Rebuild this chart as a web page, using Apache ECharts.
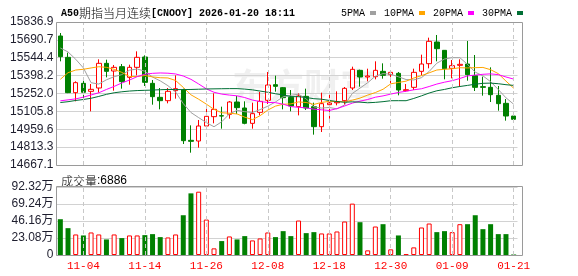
<!DOCTYPE html>
<html><head><meta charset="utf-8">
<script src="https://cdn.jsdelivr.net/npm/echarts@6.0.0/dist/echarts.min.js"></script>
<style>html,body{margin:0;padding:0;background:#fff}#c{width:578px;height:276px}</style>
</head><body><div id="c"></div><script>
const dates = ['10-30','10-31','11-03','11-04','11-05','11-06','11-07','11-10','11-11','11-12','11-13','11-14','11-17','11-18','11-19','11-20','11-21','11-24','11-25','11-26','11-27','11-28','12-01','12-02','12-03','12-04','12-05','12-08','12-09','12-10','12-11','12-12','12-15','12-16','12-17','12-18','12-19','12-22','12-23','12-24','12-25','12-26','12-29','12-30','12-31','01-01','01-02','01-05','01-06','01-07','01-08','01-09','01-12','01-13','01-14','01-15','01-16','01-19','01-20','01-21'];
const xTickLabels = ['11-04','11-14','11-26','12-08','12-18','12-30','01-09','01-21'];

const open  = [15722.4,15547.9,15258.8,15335.1,15269.7,15296.9,15498.8,15436.0,15471.5,15384.2,15466.0,15550.6,15335.1,15220.6,15193.3,15275.2,15280.6,14868.9,14863.4,14986.1,15062.5,15070.0,15081.6,15182.4,15133.4,15007.9,15097.9,15196.1,15324.2,15299.7,15220.6,15144.3,15228.8,15144.3,14980.7,15160.6,15176.0,15193.3,15296.9,15441.5,15387.0,15389.7,15433.3,15406.1,15416.9,15275.2,15302.4,15433.3,15496.0,15673.3,15605.1,15457.8,15482.4,15493.3,15397.9,15307.9,15302.4,15237.0,15171.5,15067.9];
const close = [15553.3,15258.8,15340.6,15261.6,15286.1,15498.8,15433.3,15466.0,15348.8,15466.0,15547.8,15343.3,15226.1,15193.3,15269.7,15291.5,14866.1,14860.7,14986.1,15065.2,15122.5,15067.9,15182.4,15136.1,15007.9,15087.0,15187.9,15321.5,15310.6,15217.9,15149.7,15231.5,15133.4,14980.7,15168.8,15174.2,15184.0,15294.2,15449.7,15387.0,15395.2,15441.5,15400.6,15425.1,15280.6,15283.3,15425.1,15493.3,15678.7,15618.7,15455.1,15479.7,15490.6,15406.1,15302.4,15302.4,15242.4,15168.8,15067.9,15040.6];
const low   = [15515.1,15255.0,15187.9,15193.3,15106.1,15258.8,15384.2,15275.1,15291.5,15324.2,15400.6,15313.3,15160.6,15122.5,15171.5,15209.7,14838.9,14767.9,14808.9,14969.7,15007.9,14964.3,15046.1,15084.3,15000.1,14964.3,15073.4,15166.1,15267.0,15122.5,15106.1,15073.3,15117.0,14915.2,14937.0,15046.1,15155.2,15160.6,15280.6,15307.9,15351.5,15367.9,15373.3,15335.1,15237.0,15267.0,15280.6,15400.6,15457.8,15515.1,15367.9,15376.1,15307.9,15356.9,15272.4,15234.3,15182.4,15111.5,15029.8,15029.8];
const high  = [15746.9,15586.0,15351.5,15373.3,15329.7,15531.5,15528.8,15485.1,15493.3,15487.8,15596.9,15564.2,15362.4,15296.9,15296.9,15400.6,15291.5,14991.6,15035.2,15133.4,15253.3,15144.3,15190.6,15231.5,15187.9,15177.0,15264.2,15427.9,15397.9,15305.2,15280.6,15253.3,15291.5,15177.0,15258.8,15253.3,15269.7,15305.2,15471.5,15447.0,15455.1,15515.1,15498.8,15444.2,15427.9,15329.7,15455.1,15569.7,15708.7,15730.6,15607.8,15526.0,15531.5,15681.5,15566.9,15389.7,15466.0,15313.3,15207.0,15070.6];
const volume = [485900,364400,278900,265400,305900,278900,211500,278900,229400,265400,265400,269900,283400,242900,238400,278900,539900,836800,859300,481400,90000,189000,251900,211500,256400,198000,225000,305900,242900,323900,256400,467900,296900,310400,292400,292400,319400,454400,697300,445400,63000,386900,418400,76500,265400,9000,103500,373400,427400,310400,323900,310400,418400,418400,539900,350900,418400,283400,283400,6886];

const ma5  = [15624,15592,15532,15461,15340.1,15329.2,15364.1,15389.2,15406.6,15442.6,15452.4,15434.4,15386.4,15355.3,15316.0,15264.8,15169.3,15096.3,15054.8,15013.9,14980.1,15020.5,15084.8,15114.8,15103.4,15096.3,15120.3,15148.1,15183.0,15225.0,15237.5,15246.2,15208.6,15142.6,15132.8,15137.7,15126.3,15158.4,15252.2,15295.9,15340.1,15393.5,15414.8,15409.9,15388.6,15366.2,15362.9,15381.5,15432.2,15499.8,15534.2,15545.1,15544.6,15490.0,15426.8,15396.2,15348.8,15284.4,15216.8,15164.4];
const ma10 = [15368,15422,15444,15450,15461,15471,15466,15450,15425,15391.3,15390.8,15399.2,15387.8,15381.0,15379.3,15358.6,15301.9,15241.3,15205.1,15165.0,15122.5,15094.9,15090.5,15084.8,15058.6,15038.2,15070.4,15116.5,15148.9,15164.2,15166.9,15183.3,15178.4,15162.8,15178.9,15187.6,15186.3,15183.5,15197.4,15214.3,15238.9,15259.9,15286.6,15331.1,15342.2,15353.1,15378.2,15398.1,15421.0,15444.2,15450.2,15454.0,15463.0,15461.1,15463.3,15465.2,15446.9,15414.5,15353.4,15295.6];
const ma20 = [15192,15200,15208,15222,15240,15258,15285,15310,15338,15362,15390,15410,15417,15420,15418,15412,15395,15368,15330,15290,15262,15247.1,15239.2,15232.9,15219.0,15198.4,15186.1,15178.9,15177.0,15164.6,15144.7,15139.1,15134.4,15123.8,15118.8,15112.9,15128.3,15150.0,15173.2,15189.3,15202.9,15221.6,15232.5,15246.9,15260.6,15270.4,15282.2,15290.8,15309.2,15329.3,15344.5,15357.0,15374.8,15396.1,15402.8,15409.2,15412.6,15406.3,15387.2,15369.9];
const ma30 = [15178,15185,15195,15203,15213,15228,15245,15258,15266,15272,15276,15278,15280,15283,15285,15284,15284,15285,15287,15289,15290,15291,15292,15292,15288,15282,15272,15262,15250,15240.2,15226.7,15225.8,15218.9,15209.5,15205.6,15194.8,15186.2,15180.4,15183.8,15181.2,15176.1,15179.4,15185.2,15192.9,15193.3,15193.0,15211.6,15232.7,15255.8,15274.2,15285.3,15299.1,15309.3,15318.3,15328.1,15335.3,15337.1,15332.1,15324.0,15318.1];

const priceTickLabels = ['14667.1','14813.3','14959.6','15105.8','15252.0','15398.2','15544.4','15690.7','15836.9'];
const volTickLabels = ['0','23.08万','46.16万','69.24万','92.32万'];
const priceMin = 14667.1, priceMax = 15836.9, priceStep = 146.225;
const volMax = 923200, volStep = 230800;
const lastVolume = 6886;
const titleText = 'A50期指当月连续[CNOOY] 2026-01-20 18:11';
const maNames = ['5PMA','10PMA','20PMA','30PMA'];

const UP = '#ff0000', DOWN = '#008000';
const maColors = ['#a0a0a0','#ffa500','#ff00ff','#006f35'];
const latin = 'Liberation Mono';
const cjk = 'Noto Sans CJK SC';

const chart = echarts.init(document.getElementById('c'), null, {renderer:'canvas'});

const vLines = {
  silent: true, symbol: ['none','none'], animation:false,
  label: {show:false},
  lineStyle: {color:'#c8c8c8', type:[4,3], width:1},
  data: xTickLabels.map(d => ({xAxis: d}))
};

const isUp = i => close[i] > open[i] || (close[i] === open[i] && (i === 0 || close[i] >= close[i-1]));

function richTitle(s){
  let out = '', cur = '', curT = null;
  for (const ch of s) {
    const t = /[\u4e00-\u9fff]/.test(ch) ? 'c' : 'a';
    if (t !== curT && cur) { out += '{' + curT + '|' + cur + '}'; cur=''; }
    curT = t; cur += ch;
  }
  if (cur) out += '{' + curT + '|' + cur + '}';
  return out;
}

const option = {
  animation: false,
  backgroundColor: '#fff',
  title: [
    {left: 56, top: 2, text: richTitle(titleText),
     textStyle: {rich: {a:{fontFamily:latin, fontSize:10, color:'#000'}, c:{fontFamily:cjk, fontSize:12, fontWeight:300, color:'#000'}}}},
    {left: 56, top: 170, text: '{c|成交量}{a|:' + lastVolume + '}',
     textStyle: {rich: {a:{fontFamily:'Liberation Sans', fontSize:12, fontWeight:'normal', color:'#000'}, c:{fontFamily:cjk, fontSize:12, fontWeight:300, color:'#000'}}}}
  ],
  legend: {
    left: 336, top: 3, align: 'right', icon: 'rect', itemWidth: 6, itemHeight: 4, itemGap: 8,
    textStyle: {fontFamily: latin, fontSize: 10, color: '#000', padding: [0,0,0,0]},
    data: maNames
  },
  grid: [
    {left: 56.5, top: 22, width: 461, height: 143, show: false},
    {left: 56.5, top: 187, width: 461, height: 68, show: false}
  ],
  xAxis: [
    {type:'category', gridIndex:0, data:dates, boundaryGap:true,
     axisLine:{show:false}, axisTick:{show:false}, axisLabel:{show:false}, splitLine:{show:false}},
    {type:'category', gridIndex:1, data:dates, boundaryGap:true,
     axisLine:{show:false}, axisTick:{show:false}, splitLine:{show:false},
     axisLabel:{show:true, interval:(idx, val) => xTickLabels.indexOf(dates[idx]) >= 0,
       color: UP, fontFamily: latin, fontSize: 11, margin: 6, hideOverlap:false}}
  ],
  yAxis: [
    {type:'value', gridIndex:0, min:priceMin, max:priceMax, interval:priceStep, scale:true,
     axisLine:{show:false}, axisTick:{show:false},
     splitLine:{show:true, lineStyle:{color:'#d2d2d2', width:1}},
     axisLabel:{color:'#1e1e2e', fontFamily:'Liberation Sans', fontSize:12, margin:3,
       formatter: v => priceTickLabels[Math.round((v - priceMin)/priceStep)]}},
    {type:'value', gridIndex:1, min:0, max:volMax, interval:volStep,
     axisLine:{show:false}, axisTick:{show:false},
     splitLine:{show:true, lineStyle:{color:'#d2d2d2', width:1}},
     axisLabel:{color:'#1e1e2e', fontFamily:'Liberation Sans, ' + cjk, fontSize:12, margin:3,
       formatter: v => volTickLabels[Math.round(v/volStep)]}}
  ],
  graphic: [
    {type:'text', left: 232, top: 68, z: -1, silent: true,
     style:{text:'东方财富', font:'bold 36px "Noto Sans CJK SC"', fill:'rgba(0,0,0,0.06)'}},
    {type:'rect', silent:true, z: 100, shape:{x:56.5, y:22.5, width:466, height:143},
     style:{fill:'none', stroke:'#9a9a9a', lineWidth:1}},
    {type:'rect', silent:true, z: 100, shape:{x:56.5, y:186.5, width:466, height:69},
     style:{fill:'none', stroke:'#9a9a9a', lineWidth:1}}
  ],
  series: [
    {type:'candlestick', name:'K', xAxisIndex:0, yAxisIndex:0, barWidth:5,
     data: dates.map((d,i) => [open[i], close[i], low[i], high[i]]),
     itemStyle:{color:'#ffffff', color0:DOWN, borderColor:UP, borderColor0:DOWN, borderWidth:1},
     markLine: vLines, z: 3},
    ...maNames.map((n,k) => ({
      type:'line', name:n, xAxisIndex:0, yAxisIndex:0, data:[ma5,ma10,ma20,ma30][k],
      showSymbol:false, symbol:'none', smooth:false, color: maColors[k],
      lineStyle:{width:1, color:maColors[k]}, z: 4
    })),
    {type:'bar', name:'VOL', xAxisIndex:1, yAxisIndex:1, barWidth:5,
     data: volume.map((v,i) => ({value:v, itemStyle: isUp(i)
        ? {color:'#ffffff', borderColor:UP, borderWidth:1}
        : {color:DOWN, borderColor:DOWN, borderWidth:0}})),
     markLine: vLines}
  ]
};
chart.setOption(option);
</script></body></html>
